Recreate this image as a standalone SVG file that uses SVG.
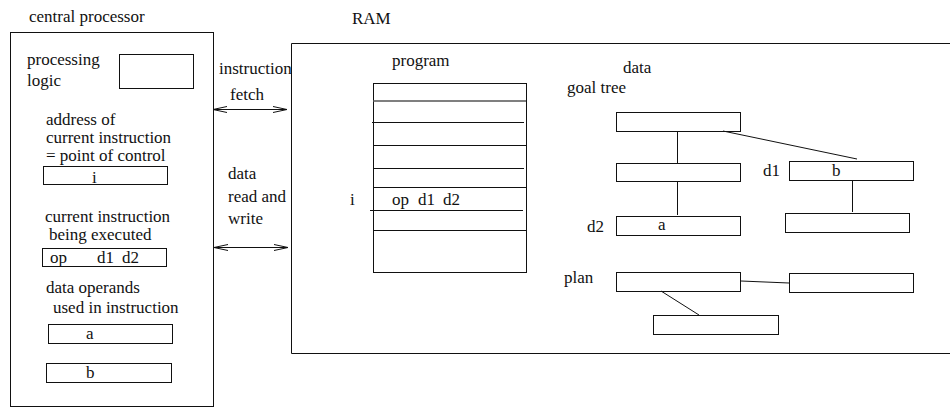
<svg xmlns="http://www.w3.org/2000/svg" width="950" height="408" viewBox="0 0 950 408" font-family="'Liberation Serif', 'DejaVu Serif', serif">
  <style>
    text { font-family: "Liberation Serif", "DejaVu Serif", serif; font-size: 17px; fill: #111; }
    .box { fill: none; stroke: #111; stroke-width: 1; }
    .ln { fill: none; stroke: #111; stroke-width: 1; }
    .arrow { fill: none; stroke: #111; stroke-width: 1; marker-start: url(#headL); marker-end: url(#headR); }
  </style>
  <defs>
    <marker id="headR" viewBox="0 0 14 8" refX="14" refY="4" markerWidth="14" markerHeight="8" markerUnits="userSpaceOnUse" orient="auto">
      <path d="M0,1 L14,4 L0,7" fill="none" stroke="#111" stroke-width="1"/>
    </marker>
    <marker id="headL" viewBox="0 0 14 8" refX="0" refY="4" markerWidth="14" markerHeight="8" markerUnits="userSpaceOnUse" orient="auto">
      <path d="M14,1 L0,4 L14,7" fill="none" stroke="#111" stroke-width="1"/>
    </marker>
  </defs>

  <!-- central processor -->
  <g id="cpu">
    <text x="29" y="22">central processor</text>
    <rect class="box" x="10.5" y="32.5" width="203" height="374"/>
  </g>
  <g id="processing-logic">
    <text x="27" y="65">processing</text>
    <text x="27" y="86">logic</text>
    <rect class="box" x="119.5" y="54.5" width="74" height="34"/>
  </g>
  <g id="instruction-address">
    <text x="46" y="125">address of</text>
    <text x="46" y="143">current instruction</text>
    <text x="46" y="161">= point of control</text>
    <rect class="box" x="43.5" y="166.5" width="124" height="18"/>
    <text x="92" y="183">i</text>
  </g>
  <g id="current-instruction">
    <text x="45" y="222">current instruction</text>
    <text x="49" y="240">being executed</text>
    <rect class="box" x="42.5" y="248.5" width="124" height="18"/>
    <text x="50" y="263">op</text>
    <text x="97" y="263">d1</text>
    <text x="122" y="263">d2</text>
  </g>
  <g id="data-operands">
    <text x="46" y="293">data operands</text>
    <text x="53" y="313">used in instruction</text>
    <rect class="box" x="48.5" y="324.5" width="124" height="19"/>
    <text x="86" y="339">a</text>
    <rect class="box" x="46.5" y="363.5" width="125" height="19"/>
    <text x="86" y="378">b</text>
  </g>

  <!-- RAM -->
  <g id="ram">
    <text x="352" y="24">RAM</text>
    <path class="ln" d="M960,43.5 H291.5 V353.5 H960"/>
  </g>
  <g id="program">
    <text x="392" y="66">program</text>
    <rect class="box" x="373.5" y="83.5" width="153" height="189"/>
    <line x1="373" y1="101" x2="526" y2="101" stroke="#555" stroke-width="1.5"/>
    <line class="ln" x1="372" y1="122.5" x2="524" y2="122.5"/>
    <line class="ln" x1="373" y1="145.5" x2="526" y2="145.5"/>
    <line class="ln" x1="373" y1="168.5" x2="524" y2="168.5"/>
    <line class="ln" x1="373" y1="187.5" x2="526" y2="187.5"/>
    <line class="ln" x1="370" y1="210.5" x2="523" y2="210.5"/>
    <line class="ln" x1="373" y1="230.5" x2="526" y2="230.5"/>
    <text x="350" y="205">i</text>
    <text x="392" y="205">op</text>
    <text x="418" y="205">d1</text>
    <text x="443" y="205">d2</text>
  </g>

  <!-- data -->
  <g id="data-labels">
    <text x="623" y="73">data</text>
    <text x="567" y="93">goal tree</text>
  </g>
  <g id="goal-root"><rect class="box" x="616.5" y="112.5" width="124" height="19"/></g>
  <g id="goal-mid"><rect class="box" x="616.5" y="163.5" width="124" height="18"/></g>
  <g id="goal-d2">
    <text x="587" y="232">d2</text>
    <rect class="box" x="616.5" y="216.5" width="124" height="19"/>
    <text x="658" y="230">a</text>
  </g>
  <g id="goal-d1">
    <text x="763" y="176">d1</text>
    <rect class="box" x="789.5" y="161.5" width="124" height="19"/>
    <text x="832" y="176">b</text>
  </g>
  <g id="goal-d1-child"><rect class="box" x="785.5" y="213.5" width="124" height="19"/></g>
  <g id="plan">
    <text x="564" y="283">plan</text>
    <rect class="box" x="616.5" y="272.5" width="124" height="19"/>
  </g>
  <g id="plan-right"><rect class="box" x="789.5" y="273.5" width="124" height="19"/></g>
  <g id="plan-child"><rect class="box" x="653.5" y="315.5" width="125" height="19"/></g>

  <!-- connectors -->
  <g id="connectors">
    <line class="arrow" x1="213" y1="109.5" x2="287" y2="109.5"/>
    <line class="arrow" x1="214" y1="247.5" x2="288" y2="247.5"/>
    <line class="ln" x1="677.5" y1="131" x2="677.5" y2="163"/>
    <line class="ln" x1="677.5" y1="182" x2="677.5" y2="215"/>
    <line class="ln" x1="723" y1="131" x2="857" y2="159"/>
    <line class="ln" x1="852.5" y1="181" x2="852.5" y2="212"/>
    <line class="ln" x1="741" y1="281" x2="789" y2="283"/>
    <line class="ln" x1="661" y1="291" x2="699" y2="315"/>
  </g>

  <!-- side labels for the transfers -->
  <g id="transfer-labels">
    <text x="219" y="74">instruction</text>
    <text x="230" y="100">fetch</text>
    <text x="228" y="179">data</text>
    <text x="228" y="202">read and</text>
    <text x="228" y="224">write</text>
  </g>
</svg>
